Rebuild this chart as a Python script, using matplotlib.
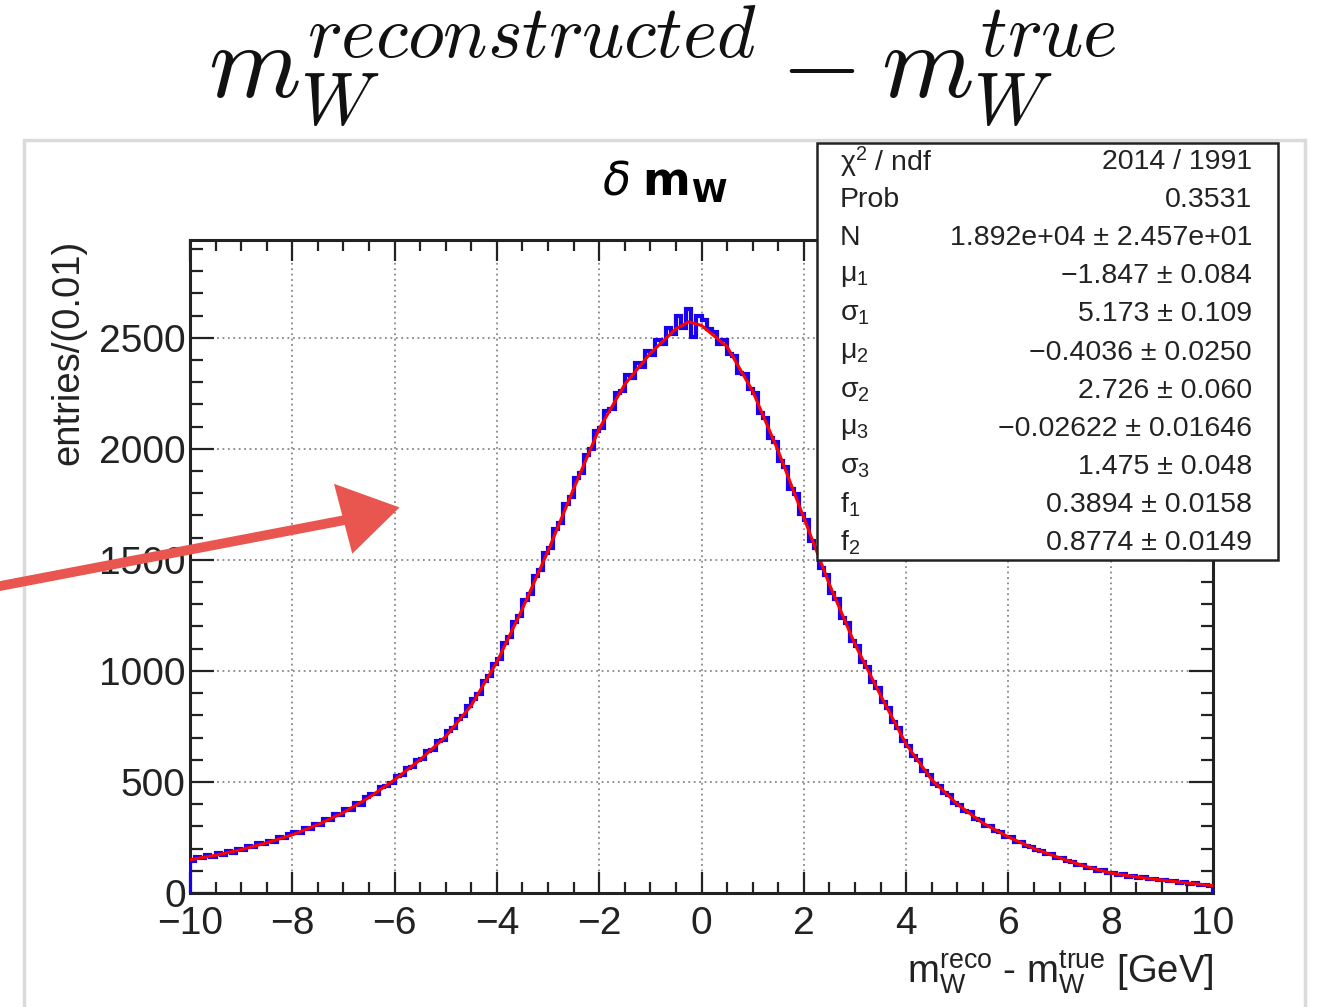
import numpy as np
import matplotlib
matplotlib.use("Agg")
import matplotlib.pyplot as plt
from matplotlib.patches import Rectangle, Polygon
from matplotlib.ticker import MultipleLocator

plt.rcParams['font.family'] = ['Liberation Sans', 'DejaVu Sans']
plt.rcParams['mathtext.fontset'] = 'custom'
plt.rcParams['mathtext.rm'] = 'Liberation Sans'
plt.rcParams['mathtext.it'] = 'Liberation Sans:italic'
plt.rcParams['mathtext.bf'] = 'Liberation Sans:bold'
plt.rcParams['mathtext.sf'] = 'Liberation Sans'

# ---------------- data ----------------
hist_range = (-10.0, 10.0)
hist_counts = [
    145, 162, 158, 171, 163, 178, 170, 190, 181, 198,
    192, 211, 205, 224, 219, 236, 231, 250, 246, 265,
    274, 270, 291, 286, 310, 306, 331, 328, 355, 349,
    376, 374, 404, 398, 431, 445, 447, 478, 480, 494,
    528, 530, 562, 566, 598, 603, 640, 645, 684, 688,
    728, 741, 784, 796, 840, 872, 896, 955, 975, 1030,
    1052, 1125, 1151, 1220, 1248, 1320, 1347, 1425, 1455, 1530,
    1555, 1640, 1668, 1752, 1785, 1870, 1890, 1972, 1998, 2080,
    2095, 2172, 2180, 2252, 2260, 2330, 2318, 2385, 2370, 2440,
    2420, 2490, 2470, 2545, 2515, 2600, 2545, 2630, 2505, 2600,
    2580, 2540, 2525, 2470, 2490, 2425, 2418, 2340, 2335, 2270,
    2250, 2160, 2140, 2050, 2030, 1945, 1920, 1820, 1795, 1705,
    1680, 1585, 1555, 1465, 1430, 1350, 1322, 1240, 1215, 1135,
    1110, 1040, 1018, 950, 922, 858, 832, 770, 745, 684,
    662, 615, 598, 550, 532, 492, 483, 448, 440, 405,
    398, 368, 364, 334, 330, 302, 300, 277, 275, 252,
    251, 231, 230, 211, 208, 192, 190, 174, 175, 158,
    157, 143, 141, 128, 126, 113, 114, 101, 102, 90,
    92, 81, 84, 74, 76, 68, 71, 62, 64, 57,
    59, 52, 54, 47, 48, 42, 44, 37, 38, 33,
]

fit_x = [-10, -9.5, -9, -8.5, -8, -7.5, -7, -6.5, -6, -5.5, -5, -4.5, -4, -3.5,
         -3, -2.5, -2, -1.5, -1, -0.5, -0.25, 0, 0.5, 1, 1.5, 2, 2.5, 3, 3.5,
         4, 4.5, 5, 5.5, 6, 6.5, 7, 7.5, 8, 8.5, 9, 9.5, 10]
fit_y = [150, 170, 195, 226, 262, 308, 362, 430, 510, 600, 705, 845, 1040, 1280,
         1540, 1820, 2090, 2290, 2430, 2540, 2572, 2555, 2460, 2260, 1990, 1690, 1390, 1120, 890,
         670, 510, 400, 315, 252, 200, 158, 120, 90, 72, 58, 45, 33]

x_ticks = [-10, -8, -6, -4, -2, 0, 2, 4, 6, 8, 10]
y_ticks = [0, 500, 1000, 1500, 2000, 2500]

stat_labels = [r'$\mathrm{\chi}^{2}$ / ndf', 'Prob', 'N',
               r'$\mathrm{\mu}_{1}$', r'$\mathrm{\sigma}_{1}$',
               r'$\mathrm{\mu}_{2}$', r'$\mathrm{\sigma}_{2}$',
               r'$\mathrm{\mu}_{3}$', r'$\mathrm{\sigma}_{3}$',
               r'f$_{1}$', r'f$_{2}$']
stat_values = ['2014 / 1991', '0.3531', '1.892e+04 \u00b1 2.457e+01',
               '\u22121.847 \u00b1 0.084', '5.173 \u00b1 0.109',
               '\u22120.4036 \u00b1 0.0250', '2.726 \u00b1 0.060',
               '\u22120.02622 \u00b1 0.01646', '1.475 \u00b1 0.048',
               '0.3894 \u00b1 0.0158', '0.8774 \u00b1 0.0149']

# ---------------- figure ----------------
W, H = 1318, 1007
fig = plt.figure(figsize=(W / 100, H / 100), dpi=100)
fig.patch.set_facecolor('white')

def px_axes(z):
    a = fig.add_axes([0, 0, 1, 1], zorder=z)
    a.set_xlim(0, W)
    a.set_ylim(H, 0)
    a.axis('off')
    a.patch.set_alpha(0)
    return a

bg = px_axes(0)
bg.add_patch(Rectangle((24, 140), 1281, 900, facecolor='white',
                       edgecolor='#dadada', lw=2.5))
bg.text(662, 66, r'$m_W^{reconstructed} - m_W^{true}$', fontsize=76,
        ha='center', va='center', math_fontfamily='cm', color='#111111')

# main axes
ax = fig.add_axes([190 / W, 1 - 893 / H, 1023 / W, 653 / H], zorder=1)
edges = np.linspace(hist_range[0], hist_range[1], len(hist_counts) + 1)
ax.stairs(hist_counts, edges, color='#1a00f0', lw=3.0, zorder=3)
ax.plot(fit_x, fit_y, color='#ff0000', lw=2.2, zorder=4)

ax.set_xlim(-10, 10)
ax.set_ylim(0, 2940)
ax.set_xticks(x_ticks)
ax.set_yticks(y_ticks)
ax.xaxis.set_minor_locator(MultipleLocator(0.5))
ax.yaxis.set_minor_locator(MultipleLocator(100))
ax.tick_params(which='both', direction='in', top=True, right=True,
               width=1.6, colors='#222222', labelcolor='#222222')
ax.tick_params(axis='x', which='major', length=15, labelsize=28, pad=9)
ax.tick_params(axis='x', which='minor', length=8)
ax.tick_params(axis='y', which='major', length=17, labelsize=28, pad=3)
ax.tick_params(axis='y', which='minor', length=9)
for s in ax.spines.values():
    s.set_linewidth(2.2)
    s.set_color('#222222')
ax.grid(True, which='major', linestyle=(0, (1, 2)), color='#888888', lw=1.3)
ax.set_axisbelow(True)

fg = px_axes(2)
# axis titles
fg.text(68, 240, 'entries/(0.01)', rotation=90, fontsize=27.5,
        ha='center', va='top', color='#222222')
fg.text(1213, 972, r'm$_{\rm W}^{\rm reco}$ - m$_{\rm W}^{\rm true}$ [GeV]',
        fontsize=27.5, ha='right', va='center', color='#222222')
# histogram title
fg.text(665, 182, r'$\delta$ $\mathbf{m_{W}}$', fontsize=33,
        ha='center', va='center', math_fontfamily='dejavusans', color='black')

# stats box
fg.add_patch(Rectangle((817, 143), 461, 417, facecolor='white',
                       edgecolor='#222222', lw=1.8))
for i, (lab, val) in enumerate(zip(stat_labels, stat_values)):
    yy = 162 + i * 38.1
    fg.text(840, yy, lab, fontsize=20.5, ha='left', va='center', color='#222222')
    fg.text(1252, yy, val, fontsize=20.5, ha='right', va='center', color='#222222')

# hand-drawn red arrow
arrow_col = '#e8564f'
fg.plot([-5, 345], [587, 520], color=arrow_col, lw=7, solid_capstyle='round')
fg.add_patch(Polygon([(336, 486), (397, 508), (353, 551)], closed=True,
                     facecolor=arrow_col, edgecolor=arrow_col, lw=2))

fig.savefig('out.png', dpi=100)
